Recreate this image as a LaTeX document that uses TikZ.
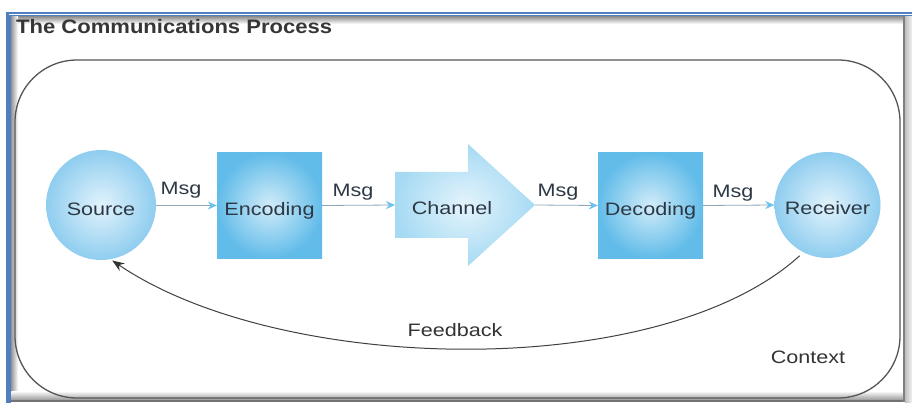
\documentclass[tikz,border=0pt]{standalone}
\usepackage{fontspec}
\setmainfont{Liberation Sans}
\newfontfamily\lblfont[FakeStretch=1.2]{Liberation Sans}
\newfontfamily\ttlfont[FakeStretch=1.13]{Liberation Sans}
\usetikzlibrary{arrows.meta}
\definecolor{frameblue}{HTML}{4F7FBF}
\definecolor{cinner}{HTML}{E2F3FC}
\definecolor{couter}{HTML}{8FCDEF}
\definecolor{sinner}{HTML}{D2ECF9}
\definecolor{souter}{HTML}{62BCE9}
\definecolor{chinner}{HTML}{E4F4FC}
\definecolor{chouter}{HTML}{A6DAF3}
\definecolor{lineblue}{HTML}{8FA7B9}
\definecolor{headblue}{HTML}{6EC2EC}
\definecolor{txt}{HTML}{2C3844}
\definecolor{ttl}{HTML}{363636}
\definecolor{rr}{HTML}{555555}
\begin{document}
\begin{tikzpicture}[x=1pt,y=-1pt,
  circ/.style={circle, inner sep=0pt, shading=radial, inner color=cinner, outer color=couter},
  sq/.style={rectangle, minimum size=105pt, inner sep=0pt, shading=radial, inner color=sinner, outer color=souter},
  lbl/.style={font=\lblfont\fontsize{18}{20}\selectfont, text=txt, anchor=base, inner sep=0pt},
  msgline/.style={draw=lineblue, line width=0.8pt, -{Stealth[length=9pt,width=8pt,color=headblue]}},
  fbline/.style={draw=black!75, line width=1pt, -{Stealth[length=12pt,width=9pt,color=black!80]}}
]
\useasboundingbox (0,0) rectangle (912,403);
\fill[white] (0,0) rectangle (912,403);
% outer frame
\fill[frameblue] (6,11.7) rectangle (912,14);
\fill[frameblue] (9.3,14.8) rectangle (912,16.2);
\fill[frameblue] (6,11.7) rectangle (8.5,403);
\fill[frameblue] (9.3,14.8) rectangle (11.3,403);
\shade[top color=black!45, bottom color=white] (11.3,16.2) rectangle (904,24);
\shade[left color=black!40, right color=white] (11.3,16.2) rectangle (18,400);
\shade[top color=white, bottom color=black!40] (11.3,391) rectangle (904,400);
\fill[black!55] (11.3,400) rectangle (904,402);
\fill[black!50] (902.5,16.2) rectangle (905,402);
\shade[left color=black!25, right color=black!5] (905,16.2) rectangle (912,403);
% title
\node[font=\ttlfont\bfseries\fontsize{19.5}{22}\selectfont, text=ttl, anchor=base west, inner sep=0pt] (title) at (16,34) {The Communications Process};
% context rounded rectangle
\draw[rr, line width=1.3pt, rounded corners=62pt] (15,60) rectangle (900,398);
% nodes
\node[circ, minimum size=110pt] (src) at (101,205) {};
\node[sq] (enc) at (269.5,205.5) {};
\path[shading=radial, inner color=chinner, outer color=chouter]
  (395,172) -- (468,172) -- (468,144) -- (535,205) -- (468,266) -- (468,238) -- (395,238) -- cycle;
\coordinate (chtail) at (395,205);
\coordinate (chtip) at (535,205);
\node[sq] (dec) at (650.5,205.5) {};
\node[circ, minimum size=106pt] (rec) at (827.5,205) {};
% labels
\node[lbl] (srcL) at (101,216) {Source};
\node[lbl] (encL) at (269.5,216) {Encoding};
\node[lbl] (chL) at (452,215) {Channel};
\node[lbl] (decL) at (650.5,216) {Decoding};
\node[lbl] (recL) at (827.5,215) {Receiver};
% message connectors
\draw[msgline] (src.east |- enc.west) -- (enc.west);
\draw[msgline] (enc.east) -- (chtail);
\draw[msgline] (chtip) -- (dec.west);
\draw[msgline] (dec.east) -- (rec.west);
\node[lbl] (m1) at (181,195) {Msg};
\node[lbl] (m2) at (353,197) {Msg};
\node[lbl] (m3) at (558,197) {Msg};
\node[lbl] (m4) at (733,198) {Msg};
% feedback
\draw[fbline, shorten <=5pt, shorten >=2pt] (rec.243) .. controls +(-143,130) and +(171,116) .. (src.-80);
\node[lbl, text=black!80] (fb) at (455,336) {Feedback};
\node[lbl, text=black!80] (ctx) at (808,363) {Context};
\end{tikzpicture}
\end{document}
